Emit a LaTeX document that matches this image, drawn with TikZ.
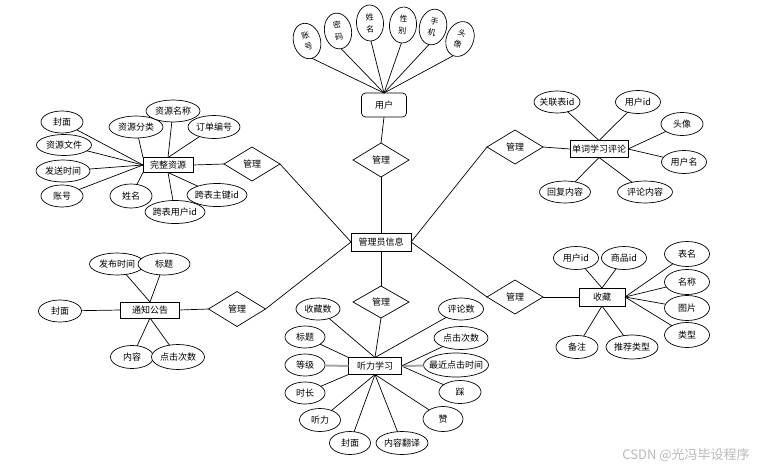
\documentclass[tikz,border=0pt]{standalone}
\usepackage{fontspec}
\newfontfamily\cjk{Noto Sans CJK SC}
\usetikzlibrary{shapes.geometric}

\begin{document}
\begin{tikzpicture}[x=1pt, y=-1pt,
  every node/.style={font=\cjk\fontsize{9}{10}\selectfont, outer sep=0pt},
  ent/.style={draw, rectangle, line width=1pt, inner sep=2pt, minimum height=16, fill=white},
  rel/.style={draw, diamond, line width=0.7pt, inner sep=0pt, minimum width=56, minimum height=34, fill=white},
  attr/.style={draw, ellipse, line width=0.7pt, inner xsep=-4pt, inner ysep=0pt, minimum height=22, fill=white},
  vattr/.style={draw, ellipse, line width=0.7pt, inner sep=0pt, minimum width=27, minimum height=36, align=center, font=\cjk\fontsize{8}{12}\selectfont, fill=white},
  link/.style={line width=0.7pt},
  heavy/.style={line width=2pt, gray!70}]
\useasboundingbox[fill=white] (0,0) rectangle (766,469);

\node[ent, minimum width=60, minimum height=18] (admin) at (381,242) {管理员信息};

\node[draw, rounded corners=4pt, line width=0.7pt, minimum width=45, minimum height=24] (user) at (384,105) {用户};
\node[rel] (mU) at (381,160) {管理};
\node[vattr, rotate=16] (uZh) at (307,41) {账\\号};
\node[vattr, rotate=10] (uMm) at (338,31) {密\\码};
\node[vattr, rotate=3] (uXm) at (370,23) {姓\\名};
\node[vattr, rotate=-5] (uXb) at (403,25) {性\\别};
\node[vattr, rotate=-13] (uSj) at (433,27) {手\\机};
\node[vattr, rotate=-22] (uTx) at (460,39) {头\\像};

\node[ent, minimum width=50, minimum height=15] (res) at (168,165) {完整资源};
\node[rel] (mRes) at (252,164) {管理};
\node[attr, minimum width=42] (a1) at (62,122) {封面};
\node[attr, minimum width=55, minimum height=21] (a2) at (64,145) {资源文件};
\node[attr, minimum width=54] (a3) at (63,171) {发送时间};
\node[attr, minimum width=42] (a4) at (62,196) {账号};
\node[attr, minimum width=54] (a5) at (136,127) {资源分类};
\node[attr, minimum width=54] (a6) at (173,111) {资源名称};
\node[attr, minimum width=52, minimum height=23] (a7) at (214,127) {订单编号};
\node[attr, minimum width=42, minimum height=24] (a8) at (131,196) {姓名};
\node[attr, minimum width=60, minimum height=23] (a10) at (217,195) {跨表主键id};
\node[attr, minimum width=60, minimum height=23] (a9) at (175,212) {跨表用户id};

\node[ent, minimum width=58, minimum height=17] (com) at (599,149) {单词学习评论};
\node[rel] (mCom) at (515,147) {管理};
\node[attr, minimum width=46] (b1) at (557,102) {关联表id};
\node[attr, minimum width=45, minimum height=23] (b2) at (638,102) {用户id};
\node[attr, minimum width=42, minimum height=23] (b3) at (682,124) {头像};
\node[attr, minimum width=45, minimum height=23] (b4) at (684,162) {用户名};
\node[attr, minimum width=51] (b5) at (565,192) {回复内容};
\node[attr, minimum width=55] (b6) at (645,192) {评论内容};

\node[ent, minimum width=59, minimum height=16] (notice) at (150,310) {通知公告};
\node[rel, minimum width=57, minimum height=35] (mNot) at (237,309) {管理};
\node[attr, minimum width=55] (c1) at (117,264) {发布时间};
\node[attr, minimum width=52] (c2) at (164,264) {标题};
\node[attr, minimum width=43] (c3) at (60,311) {封面};
\node[attr, minimum width=43, minimum height=23] (c4) at (132,357) {内容};
\node[attr, minimum width=53, minimum height=25] (c5) at (178,357) {点击次数};

\node[ent, minimum width=46, minimum height=18] (fav) at (602,297) {收藏};
\node[rel] (mFav) at (515,297) {管理};
\node[attr, minimum width=45, minimum height=23] (d1) at (576,258) {用户id};
\node[attr, minimum width=45, minimum height=23] (d2) at (624,258) {商品id};
\node[attr, minimum width=45, minimum height=25] (d3) at (687,254) {表名};
\node[attr, minimum width=45, minimum height=25] (d4) at (687,282) {名称};
\node[attr, minimum width=45, minimum height=25] (d5) at (687,308) {图片};
\node[attr, minimum width=45, minimum height=25] (d6) at (687,335) {类型};
\node[attr, minimum width=42, minimum height=23] (d7) at (577,347) {备注};
\node[attr, minimum width=52, minimum height=24] (d8) at (632,347) {推荐类型};

\node[ent, minimum width=53, minimum height=17] (lis) at (375,366) {听力学习};
\node[rel, minimum height=32] (mLis) at (381,302) {管理};
\node[attr, minimum width=44] (e1) at (318,309) {收藏数};
\node[attr, minimum width=40] (e2) at (305,337) {标题};
\node[attr, minimum width=40] (e3) at (305,365) {等级};
\node[attr, minimum width=40] (e4) at (305,393) {时长};
\node[attr, minimum width=41, minimum height=23] (e5) at (320,420) {听力};
\node[attr, minimum width=41, minimum height=23] (e6) at (350,443) {封面};
\node[attr, minimum width=52, minimum height=23] (e7) at (402,443) {内容翻译};
\node[attr, minimum width=40, minimum height=25] (e8) at (443,419) {赞};
\node[attr, minimum width=42, minimum height=23] (e9) at (460,392) {踩};
\node[attr, minimum width=62, minimum height=24] (e10) at (456,365) {最近点击时间};
\node[attr, minimum width=54, minimum height=23] (e11) at (461,338) {点击次数};
\node[attr, minimum width=45] (e12) at (461,309) {评论数};

\node[font=\cjk\fontsize{13}{15}\selectfont, text=gray!55] (wm) at (686,455) {CSDN @光冯毕设程序};

\draw[link] (admin.north) -- (mU.south);
\draw[link] (mU.north) -- (user.south);
\foreach \a in {uZh,uMm,uXm,uXb,uSj,uTx}
  \draw[link] (\a.south) -- (user.north);

\draw[link] (mRes.east) -- (admin.west);
\draw[link] (mRes.west) -- (res.east);
\foreach \a in {a1,a2,a3,a4}
  \draw[link] (\a) -- (res.west);
\draw[link] (a5) -- (res.north west);
\draw[link] (a6) -- (res.north);
\draw[link] (a7) -- (res.north);
\draw[link] (a8) -- (res.south west);
\draw[link] (a9) -- (res.south);
\draw[link] (a10) -- (res.south);

\draw[link] (mCom.west) -- (admin.east);
\draw[link] (mCom.east) -- (com.west);
\draw[link] (b1) -- (com.north);
\draw[link] (b2) -- (com.north);
\draw[link] (b3) -- (com.east);
\draw[link] (b4) -- (com.east);
\draw[link] (b5) -- (com.south);
\draw[link] (b6) -- (com.south);

\draw[link] (mNot.east) -- (admin.west);
\draw[link] (mNot.west) -- (notice.east);
\draw[link] (c1) -- (notice.north);
\draw[link] (c2) -- (notice.north);
\draw[link] (c3) -- (notice.west);
\draw[link] (c4) -- (notice.south);
\draw[link] (c5) -- (notice.south);

\draw[link] (mFav.west) -- (admin.east);
\draw[link] (mFav.east) -- (fav.west);
\draw[link] (d1) -- (fav.north);
\draw[link] (d2) -- (fav.north);
\foreach \a in {d3,d4,d5,d6}
  \draw[link] (\a) -- (fav.east);
\draw[link] (d7) -- (fav.south);
\draw[link] (d8) -- (fav.south);

\draw[link] (mLis.north) -- (admin.south);
\draw[link] (mLis.south) -- (lis.north);
\draw[link] (e1) -- (lis.north);
\draw[link] (e2) -- (lis.north west);
\draw[heavy] (e3) -- (lis.west);
\draw[link] (e4) -- (lis.south west);
\foreach \a in {e5,e6,e7,e8}
  \draw[link] (\a) -- (lis.south);
\draw[link] (e9) -- (lis.east);
\draw[heavy] (e10) -- (lis.east);
\draw[link] (e11) -- (lis.east);
\draw[link] (e12) -- (lis.north);
\end{tikzpicture}
\end{document}
